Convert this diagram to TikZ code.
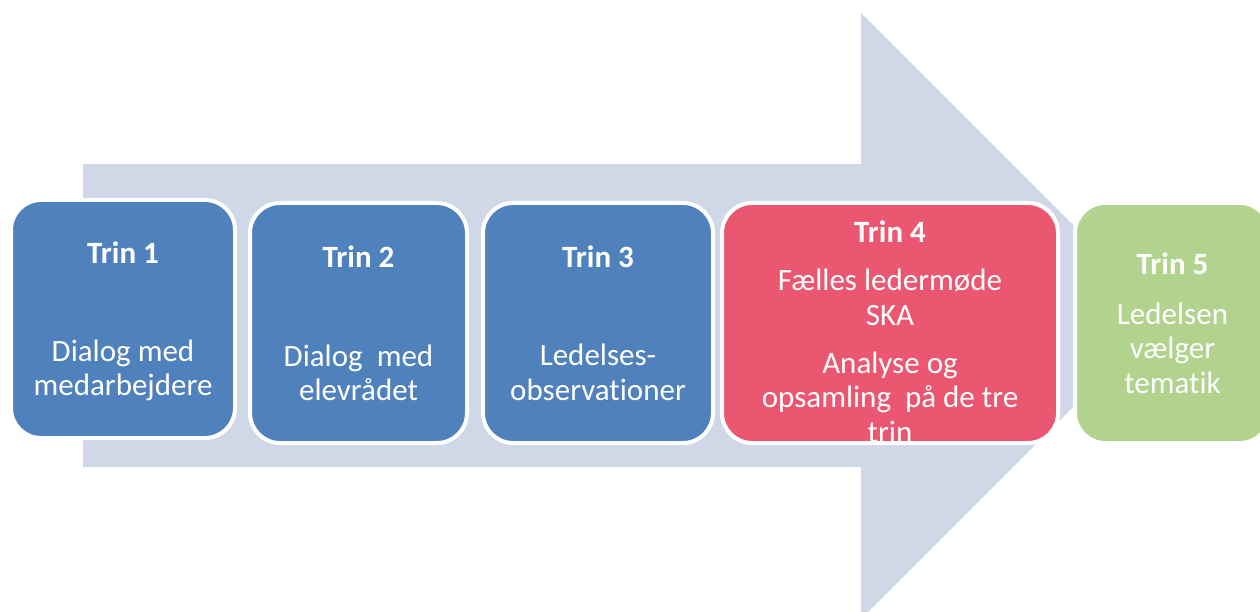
\documentclass[tikz,border=0pt]{standalone}
\usepackage{fontspec}
\setmainfont{Carlito}[Ligatures=NoCommon]
\usepackage{tikz}
\usetikzlibrary{positioning}

\definecolor{trinblue}{HTML}{4F81BD}
\definecolor{trinred}{HTML}{EB5770}
\definecolor{tringreen}{HTML}{B2D38E}
\definecolor{pilgray}{HTML}{D0D8E8}

\tikzset{
  trinbox/.style={draw=white, line width=4pt, rounded corners=30pt, outer sep=0pt,
    inner sep=0pt, text=white, align=center, minimum height=240pt,
    font=\fontsize{31}{34.5}\selectfont},
}

\begin{document}
\begin{tikzpicture}[x=1pt,y=-1pt]
\useasboundingbox (0,0) rectangle (1260,612);
% the big arrow behind
\fill[pilgray] (83,164) -- (861,164) -- (861,13) -- (1164,316) -- (861,619) -- (861,467) -- (83,467) -- cycle;
\node[trinbox, fill=trinblue, minimum width=224pt, minimum height=238pt] (t1) at (123,319) {\rule{0pt}{26pt}\textbf{Trin 1}\\[63.5pt]Dialog med\\medarbejdere};
\node[trinbox, fill=trinblue, minimum width=217pt, right=15pt of t1, yshift=-4pt] (t2) {\textbf{Trin 2}\\[64.5pt]Dialog\ \ med\\elevrådet};
\node[trinbox, fill=trinblue, minimum width=230pt, right=16pt of t2] (t3) {\textbf{Trin 3}\\[63.5pt]Ledelses-\\observationer};
\node[trinbox, fill=trinred, minimum width=336pt, right=9pt of t3] (t4) {\rule{0pt}{39pt}\textbf{Trin 4}\\[13.5pt]Fælles ledermøde\\SKA\\[13.5pt]Analyse og\\opsamling\ \ på de tre\\trin};
\node[trinbox, fill=tringreen, minimum width=195pt, right=17pt of t4] (t5) {\textbf{Trin 5}\\[15.5pt]Ledelsen\\vælger\\tematik};
\end{tikzpicture}
\end{document}
